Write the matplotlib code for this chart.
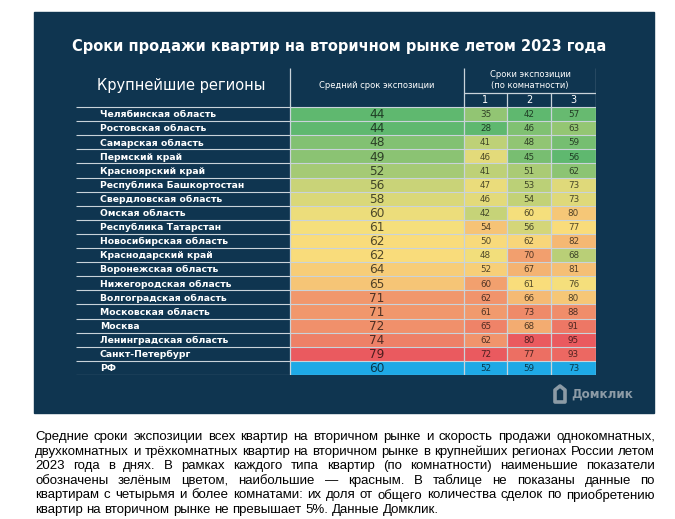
import numpy as np
import matplotlib
matplotlib.use("Agg")
import matplotlib.pyplot as plt
from matplotlib.patches import Rectangle, Polygon
from matplotlib.colors import to_rgb

W, H = 675, 519

# данные
regions = ["Челябинская область", "Ростовская область", "Самарская область", "Пермский край",
           "Красноярский край", "Республика Башкортостан", "Свердловская область", "Омская область",
           "Республика Татарстан", "Новосибирская область", "Краснодарский край", "Воронежская область",
           "Нижегородская область", "Волгоградская область", "Московская область", "Москва",
           "Ленинградская область", "Санкт-Петербург", "РФ"]
avg = [44, 44, 48, 49, 52, 56, 58, 60, 61, 62, 62, 64, 65, 71, 71, 72, 74, 79, 60]
room1 = [35, 28, 41, 46, 41, 47, 46, 42, 54, 50, 48, 52, 60, 62, 61, 65, 62, 72, 52]
room2 = [42, 46, 48, 45, 51, 53, 54, 60, 56, 62, 70, 67, 61, 66, 73, 68, 80, 77, 59]
room3 = [57, 63, 59, 56, 62, 73, 73, 80, 77, 82, 68, 81, 76, 80, 88, 91, 95, 93, 73]
room_labels = ["1", "2", "3"]

caption = [
    "Средние сроки экспозиции всех квартир на вторичном рынке и скорость продажи однокомнатных,",
    "двухкомнатных и трёхкомнатных квартир на вторичном рынке в крупнейших регионах России летом",
    "2023 года в днях. В рамках каждого типа квартир (по комнатности) наименьшие показатели",
    "обозначены зелёным цветом, наибольшие — красным. В таблице не показаны данные по",
    "квартирам с четырьмя и более комнатами: их доля от общего количества сделок по приобретению",
    "квартир на вторичном рынке не превышает 5%. Данные Домклик.",
]

NAVY = "#0f3550"
GREEN = np.array(to_rgb("#5fb86f"))
YELLOW = np.array(to_rgb("#f9e07c"))
RED = np.array(to_rgb("#ea5a5f"))
BLUE = np.array(to_rgb("#1ea9e6"))
LINE = "#c9d3da"


def fx(x):
    return x / W


def fy(y):
    return 1 - y / H


def scale_colors(vals):
    # зелёный - минимум, жёлтый - медиана, красный - максимум (как в Excel)
    v = np.array(vals[:-1], dtype=float)
    lo, med, hi = v.min(), np.median(v), v.max()
    out = []
    for x in v:
        if x <= med:
            t = (x - lo) / (med - lo)
            c = GREEN + (YELLOW - GREEN) * t
        else:
            t = (x - med) / (hi - med)
            c = YELLOW + (RED - YELLOW) * t
        out.append(c)
    out.append(BLUE)  # РФ
    return out


fig = plt.figure(figsize=(W / 100, H / 100), dpi=100)
fig.patch.set_facecolor("white")
fig.patches.append(Rectangle((fx(34), fy(413)), fx(654 - 34), (413 - 12) / H,
                             transform=fig.transFigure, color=NAVY, zorder=-10))

# таблица
n = len(regions)
rows = np.arange(n)
y_top = -0.5 - 39 / 14.1
ax = fig.add_axes([fx(76), fy(375), fx(596 - 76), (375 - 68) / H])
ax.set_xlim(76, 596)
ax.set_ylim(n - 0.5, y_top)
ax.axis("off")

cols = [(290, 464, avg, 8.7), (464, 507, room1, 6.3), (507, 551, room2, 6.3), (551, 596, room3, 6.3)]
for left, right, vals, fs in cols:
    colors = scale_colors(vals)
    ax.barh(rows, right - left, left=left, height=1, color=colors,
            edgecolor="white", linewidth=0.7, zorder=2)
    for r, v, c in zip(rows, vals, colors):
        ax.text((left + right) / 2, r + 0.05, str(v), ha="center", va="center",
                fontsize=fs, color=tuple(np.array(c) * 0.33), zorder=3)

for r, name in zip(rows, regions):
    ax.text(100, r + 0.05, name, ha="left", va="center", fontsize=6.7,
            fontweight="bold", color="white", zorder=3)

# линии
ax.hlines(np.arange(-0.5, n), 76, 596, color=LINE, linewidth=0.8, zorder=4)
ax.vlines([290, 464, 596], y_top, n - 0.5, color=LINE, linewidth=0.9, zorder=4)
ax.vlines([507, 551], -1.5, n - 0.5, color=LINE, linewidth=0.9, zorder=4)
ax.hlines(-1.5, 464, 596, color=LINE, linewidth=0.9, zorder=4)

# заголовки
ax.text(181, -2.06, "Крупнейшие регионы", ha="center", va="center", fontsize=10.5, color="white")
ax.text(377, -2.06, "Средний срок экспозиции", ha="center", va="center", fontsize=6, color="white")
ax.text(530, -2.84, "Сроки экспозиции", ha="center", va="center", fontsize=6, color="white")
ax.text(530, -2.0, "(по комнатности)", ha="center", va="center", fontsize=6, color="white")
for (left, right, _, _), lab in zip(cols[1:], room_labels):
    ax.text((left + right) / 2, -0.98, lab, ha="center", va="center", fontsize=7, color="white")

fig.text(fx(339), fy(46), "Сроки продажи квартир на вторичном рынке летом 2023 года",
         ha="center", va="center", fontsize=10.5, fontweight="bold", color="white")

# логотип
fig.text(fx(571), fy(394), "Домклик", ha="left", va="center", fontsize=8.6,
         fontweight="bold", color="#8c9ba6")
house = np.array([[555, 402], [555, 390], [560, 386], [565, 390], [565, 402]])
fig.patches.append(Polygon(np.column_stack([fx(house[:, 0]), fy(house[:, 1])]),
                           closed=True, transform=fig.transFigure, facecolor="none",
                           edgecolor="#8c9ba6", linewidth=2.6, joinstyle="round"))

# подпись, выравнивание по ширине
renderer = fig.canvas.get_renderer()
x0, x1 = 35, 655
cap_font = dict(fontsize=9.5, family="Liberation Sans", color="black", va="center", ha="left")
probe = fig.text(0, 0, "a a", **cap_font)
probe2 = fig.text(0, 0, "aa", **cap_font)
space_w = probe.get_window_extent(renderer).width - probe2.get_window_extent(renderer).width
probe.remove()
probe2.remove()
for i, line in enumerate(caption):
    y = 437 + i * 14.6
    words = line.split(" ")
    texts = [fig.text(0, fy(y), w, **cap_font) for w in words]
    widths = [t.get_window_extent(renderer).width for t in texts]
    if i == len(caption) - 1:
        gap = space_w
    else:
        gap = (x1 - x0 - sum(widths)) / (len(words) - 1)
    x = x0
    for t, w in zip(texts, widths):
        t.set_x(fx(x))
        x += w + gap

fig.savefig("out.png", dpi=100, facecolor="white")
